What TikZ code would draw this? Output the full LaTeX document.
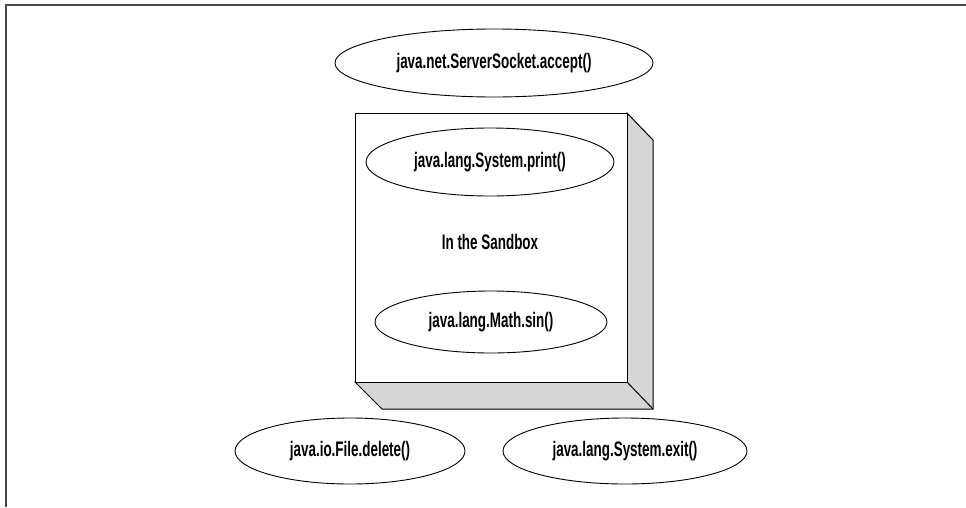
\documentclass[tikz,border=0pt]{standalone}
\usepackage{fontspec}
\setmainfont[FakeStretch=0.64]{Liberation Sans}
\usetikzlibrary{shapes.geometric}
\tikzset{
  oval/.style={ellipse, draw=black, line width=0.9pt, fill=white, inner sep=0pt, font=\fontsize{21}{24}\selectfont\bfseries},
  frameline/.style={draw=black!72, line width=2pt},
  boxline/.style={draw=black, line width=1pt},
  lbl/.style={font=\fontsize{21}{24}\selectfont\bfseries, inner sep=0pt}
}
\begin{document}
\begin{tikzpicture}[x=1pt,y=-1pt]
\useasboundingbox (0,0) rectangle (966,507);
\fill[white] (0,0) rectangle (966,507);
\draw[frameline] (966,5) -- (6,5) -- (6,507);
% sandbox cube
\path[boxline, fill=black!16] (355,382) -- (382,409) -- (653,409) -- (653,140) -- (627,113) -- (627,382) -- cycle;
\draw[boxline] (627,382) -- (653,409);
\node[boxline, fill=white, minimum width=272pt, minimum height=269pt, inner sep=0pt, anchor=north west] (box) at (355,113) {};
\node[oval, minimum width=318pt, minimum height=68pt] (ss) at (494,63) {java.net.ServerSocket.accept()};
\node[oval, minimum width=248pt, minimum height=68pt] (pr) at (490,162) {java.lang.System.print()};
\node[lbl] (sb) at (490,242) {In the Sandbox};
\node[oval, minimum width=232pt, minimum height=62pt] (ms) at (491,322) {java.lang.Math.sin()};
\node[oval, minimum width=230pt, minimum height=66pt] (fd) at (350,451) {java.io.File.delete()};
\node[oval, minimum width=244pt, minimum height=66pt] (ex) at (625,451) {java.lang.System.exit()};
\end{tikzpicture}
\end{document}
